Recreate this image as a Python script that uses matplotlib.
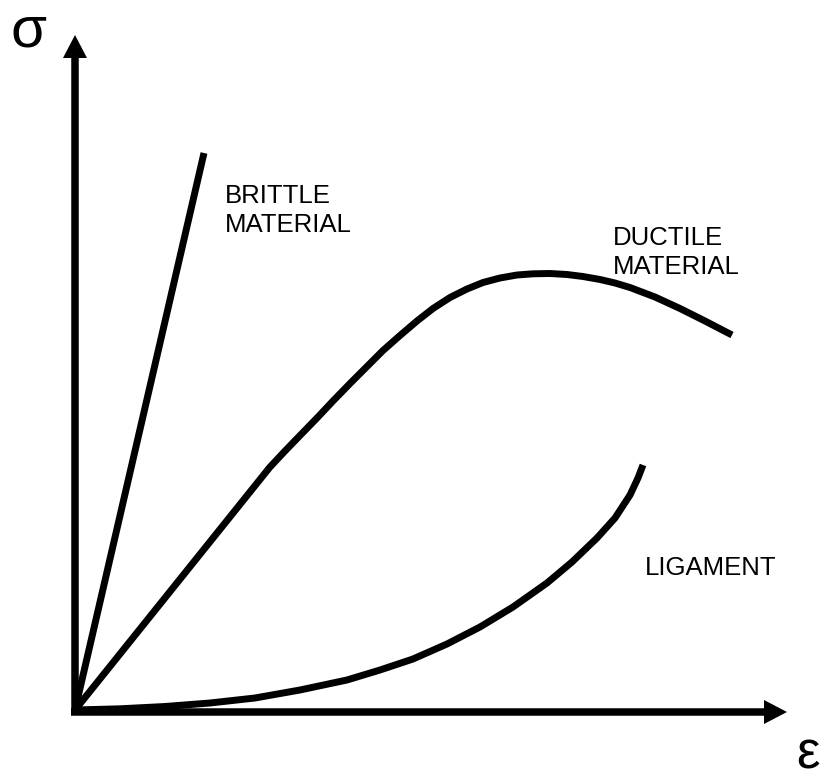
import matplotlib.pyplot as plt

# Stress-strain sketch, data units are arbitrary
brittle_x = [0.0, 1.29]
brittle_y = [0.0, 5.57]

ductile_x = [0.0, 1.95, 2.10, 2.25, 2.42, 2.58, 2.75, 2.92, 3.08, 3.25, 3.42, 3.58, 3.75, 3.92, 4.08,
             4.25, 4.42, 4.58, 4.75, 4.92, 5.08, 5.25, 5.40, 5.55, 5.80, 6.05, 6.30, 6.57]
ductile_y = [0.0, 2.43, 2.59, 2.745, 2.92, 3.09, 3.265, 3.435, 3.595, 3.745, 3.89, 4.015, 4.125, 4.21, 4.275,
             4.32, 4.35, 4.362, 4.365, 4.355, 4.335, 4.305, 4.27, 4.225, 4.13, 4.015, 3.89, 3.75]

ligament_x = [0.0, 0.45, 0.90, 1.35, 1.80, 2.25, 2.72, 3.05, 3.38, 3.72, 4.05, 4.38, 4.72, 4.97,
              5.22, 5.40, 5.55, 5.63, 5.68]
ligament_y = [0.0, 0.012, 0.035, 0.07, 0.12, 0.20, 0.30, 0.40, 0.51, 0.66, 0.83, 1.03, 1.27, 1.48,
              1.72, 1.92, 2.15, 2.32, 2.45]

curve_labels = ["BRITTLE\nMATERIAL", "DUCTILE\nMATERIAL", "LIGAMENT"]
x_label = "ε"
y_label = "σ"

# Plotting settings
font = "Liberation Sans"
lw = 5.0
label_size = 18.5

fig = plt.figure(figsize=(8.25, 7.8), dpi=100)
ax = fig.add_axes([0, 0, 1, 1])
ax.set_xlim(-0.75, 7.5)
ax.set_ylim(-0.70, 7.10)
ax.axis("off")

# axes with arrow heads
ax.arrow(-0.04, -0.02, 7.16, 0, width=0.075, head_width=0.24, head_length=0.23,
         length_includes_head=True, color="k", lw=0)
ax.arrow(0, -0.04, 0, 6.79, width=0.075, head_width=0.24, head_length=0.23,
         length_includes_head=True, color="k", lw=0)

for xs, ys in [(brittle_x, brittle_y), (ductile_x, ductile_y), (ligament_x, ligament_y)]:
    ax.plot(xs, ys, color="k", lw=lw, solid_capstyle="butt", solid_joinstyle="round")

# curve labels
label_pos = [(1.50, 5.07), (5.38, 4.65), (5.70, 1.35)]
for text, (tx, ty) in zip(curve_labels, label_pos):
    for i, line in enumerate(text.split("\n")):
        ax.text(tx, ty - i * 0.295, line, ha="left", va="baseline",
                fontsize=label_size, family=font)

ax.text(-0.46, 6.63, y_label, ha="center", va="baseline", fontsize=42, family=font)
ax.text(7.33, -0.695, x_label, ha="center", va="bottom", fontsize=38, family=font)

fig.savefig("out.png", dpi=100, facecolor="white")
